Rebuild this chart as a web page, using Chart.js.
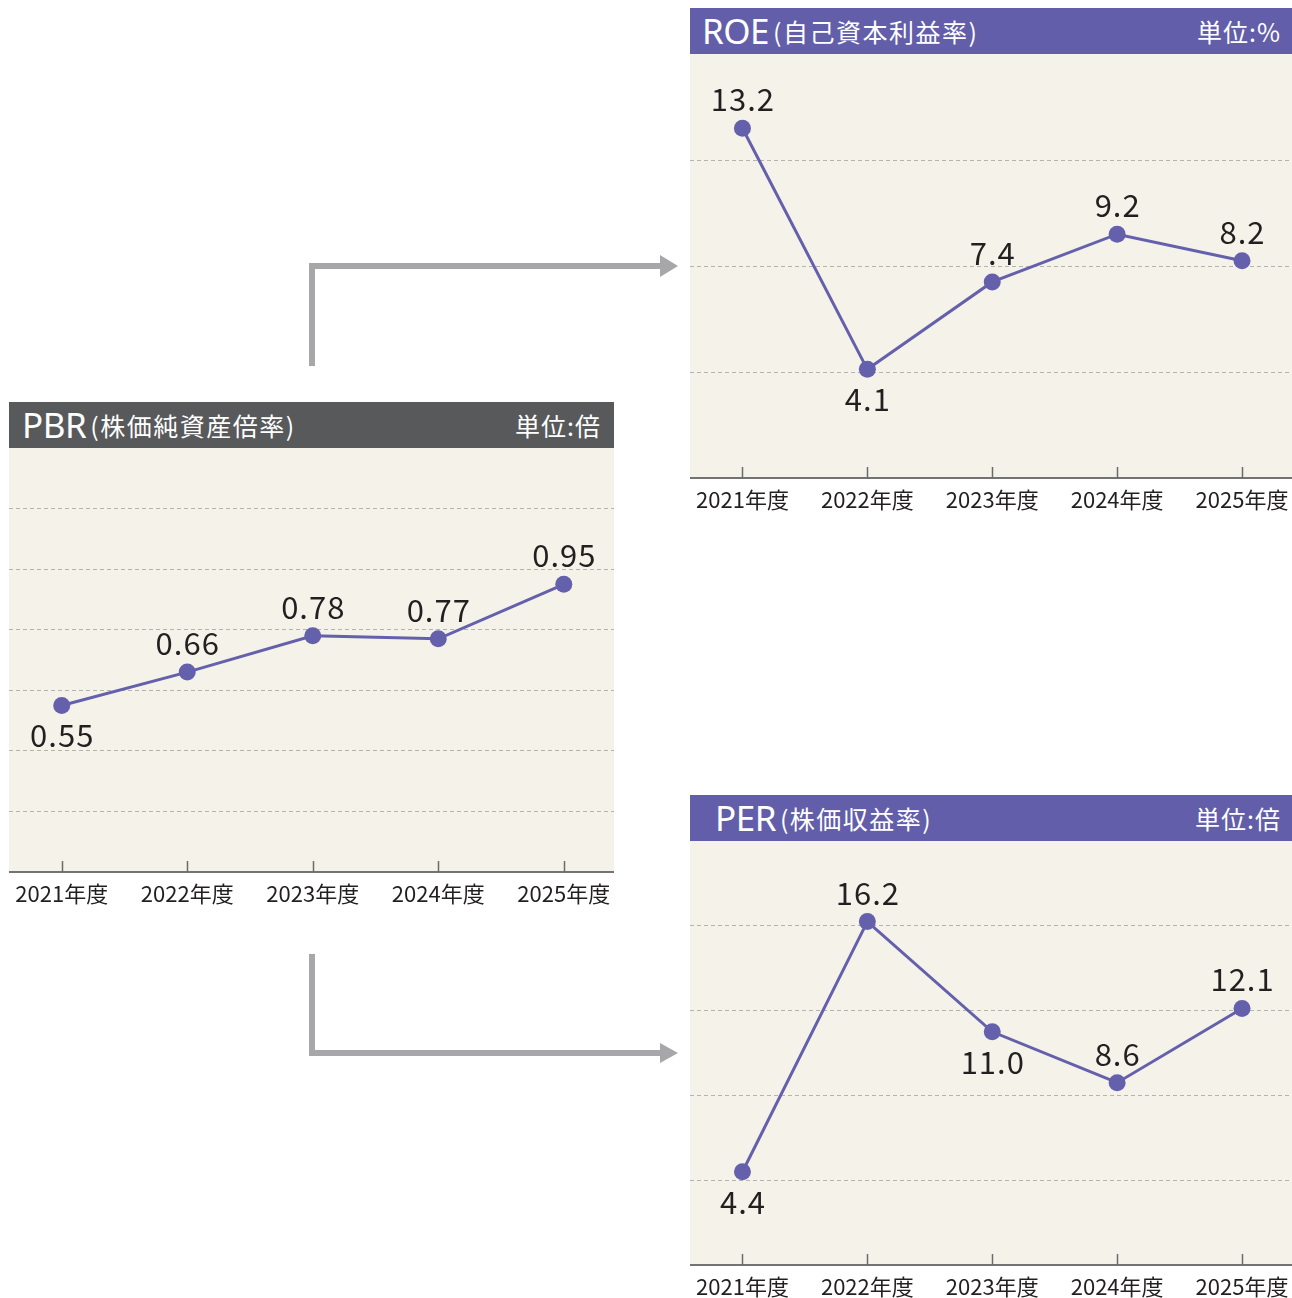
<!DOCTYPE html>
<html>
<head>
<meta charset="utf-8">
<script src="https://cdn.jsdelivr.net/npm/chart.js@4.4.0/dist/chart.umd.min.js"></script>
<style>
  html, body { margin: 0; padding: 0; background: #fff; }
  body { position: relative; width: 1292px; height: 1298px; overflow: hidden;
         font-family: "Noto Sans CJK JP", "Noto Sans", sans-serif; }
  .head { position: absolute; height: 46px; color: #fff; display: flex; align-items: center;
          box-sizing: border-box; }
  .head .big { font-family: "Noto Sans", sans-serif; font-size: 35px; letter-spacing: -0.5px; line-height: 46px; }
  .head .sub { font-size: 25px; margin-left: 4px; line-height: 46px; letter-spacing: 1.5px; }
  .head .unit { font-size: 25px; margin-left: auto; line-height: 46px; letter-spacing: 1px; }
  canvas { position: absolute; }
  svg { position: absolute; left: 0; top: 0; }
</style>
</head>
<body>

<svg width="1292" height="1298">
  <polyline points="312,366 312,266 662,266" fill="none" stroke="#a7a7aa" stroke-width="6"/>
  <polygon points="660,255 678,266 660,277" fill="#a7a7aa"/>
  <polyline points="312,954 312,1053 662,1053" fill="none" stroke="#a7a7aa" stroke-width="6"/>
  <polygon points="660,1043 678,1053 660,1063" fill="#a7a7aa"/>
</svg>

<div class="head" style="left:690px; top:8px; width:602px; background:#625ea9; padding:0 11px 0 12px;">
  <span class="big">ROE</span><span class="sub">(自己資本利益率)</span><span class="unit">単位:%</span>
</div>
<canvas id="roe" width="602" height="466" style="left:690px; top:54px;"></canvas>

<div class="head" style="left:9px; top:402px; width:605px; background:#58595b; padding:0 13px 0 13px;">
  <span class="big">PBR</span><span class="sub">(株価純資産倍率)</span><span class="unit">単位:倍</span>
</div>
<canvas id="pbr" width="605" height="466" style="left:9px; top:448px;"></canvas>

<div class="head" style="left:690px; top:795px; width:602px; background:#625ea9; padding:0 11px 0 25px;">
  <span class="big">PER</span><span class="sub">(株価収益率)</span><span class="unit">単位:倍</span>
</div>
<canvas id="per" width="602" height="466" style="left:690px; top:841px;"></canvas>

<script>
const years = ["2021年度", "2022年度", "2023年度", "2024年度", "2025年度"];

const roeValues = [13.2, 4.1, 7.4, 9.2, 8.2];
const pbrValues = [0.55, 0.66, 0.78, 0.77, 0.95];
const perValues = [4.4, 16.2, 11.0, 8.6, 12.1];

const roeLabels = ["13.2", "4.1", "7.4", "9.2", "8.2"];
const pbrLabels = ["0.55", "0.66", "0.78", "0.77", "0.95"];
const perLabels = ["4.4", "16.2", "11.0", "8.6", "12.1"];

// which value labels sit under their point
const roeBelow = [false, true, false, false, false];
const pbrBelow = [true, false, false, false, false];
const perBelow = [true, false, true, false, false];

const lineColor = "#6460ac";
const plotBg = "#f5f2ea";

const plotBackground = {
    id: "plotBackground",
    beforeDraw: (chart) => {
        const { ctx, chartArea } = chart;
        ctx.save();
        ctx.fillStyle = plotBg;
        ctx.fillRect(chartArea.left, chartArea.top, chartArea.right - chartArea.left, chartArea.bottom - chartArea.top);
        ctx.restore();
    }
};

// tick marks point up into the plot
const innerTicks = {
    id: "innerTicks",
    afterDraw: (chart) => {
        const { ctx, chartArea, scales } = chart;
        ctx.save();
        ctx.strokeStyle = "#6b6b6b";
        ctx.lineWidth = 1.5;
        years.forEach((y, i) => {
            const x = Math.round(scales.x.getPixelForValue(i)) + 0.5;
            ctx.beginPath();
            ctx.moveTo(x, chartArea.bottom);
            ctx.lineTo(x, chartArea.bottom - 11);
            ctx.stroke();
        });
        ctx.restore();
    }
};

const valueLabels = {
    id: "valueLabels",
    afterDatasetsDraw: (chart) => {
        const { ctx } = chart;
        const meta = chart.getDatasetMeta(0);
        const texts = chart.options.plugins.valueLabels.texts;
        const below = chart.options.plugins.valueLabels.below;
        ctx.save();
        ctx.font = "31px 'Noto Sans CJK JP', 'Noto Sans', sans-serif";
        ctx.letterSpacing = "1px";
        ctx.fillStyle = "#231f20";
        ctx.textAlign = "center";
        ctx.textBaseline = "alphabetic";
        meta.data.forEach((pt, i) => {
            const y = below[i] ? pt.y + 42 : pt.y - 17;
            ctx.fillText(texts[i], pt.x + 0.5, y);
        });
        ctx.restore();
    }
};

function makeChart(id, values, texts, below, yMax, yStep) {
    const ctx = document.getElementById(id).getContext("2d");
    return new Chart(ctx, {
        type: "line",
        data: {
            datasets: [{
                data: values.map((v, i) => ({ x: i, y: v })),
                borderColor: lineColor,
                borderWidth: 3,
                backgroundColor: lineColor,
                pointBackgroundColor: lineColor,
                pointBorderColor: lineColor,
                pointRadius: 8.5,
                pointBorderWidth: 0,
                tension: 0,
                clip: false,
            }]
        },
        options: {
            responsive: false,
            animation: false,
            events: [],
            layout: { padding: 0, autoPadding: false },
            plugins: {
                legend: { display: false },
                tooltip: { enabled: false },
                valueLabels: { texts: texts, below: below },
            },
            scales: {
                x: {
                    type: "linear",
                    min: -0.42,
                    max: 4.4,
                    afterBuildTicks: (scale) => {
                        scale.ticks = years.map((y, i) => ({ value: i }));
                    },
                    afterFit: (scale) => {
                        scale.height = 42;
                        scale.paddingLeft = 0;
                        scale.paddingRight = 0;
                    },
                    grid: { display: false, drawTicks: false },
                    border: { display: true, color: "#737373", width: 2 },
                    ticks: {
                        autoSkip: false,
                        maxRotation: 0,
                        padding: 8,
                        color: "#231f20",
                        font: { family: "'Noto Sans CJK JP', 'Noto Sans', sans-serif", size: 22 },
                        callback: (v) => years[v],
                    }
                },
                y: {
                    min: 0,
                    max: yMax,
                    afterFit: (scale) => { scale.width = 0; },
                    ticks: { display: false, stepSize: yStep },
                    border: { display: false, dash: [4, 3] },
                    grid: {
                        drawTicks: false,
                        lineWidth: 1,
                        color: (c) => (c.tick && (c.tick.value === 0 || c.tick.value >= yMax - 1e-9)) ? "rgba(0,0,0,0)" : "#b5b3b0",
                    }
                }
            }
        },
        plugins: [plotBackground, innerTicks, valueLabels]
    });
}

makeChart("roe", roeValues, roeLabels, roeBelow, 16, 4);
makeChart("pbr", pbrValues, pbrLabels, pbrBelow, 1.4, 0.2);
makeChart("per", perValues, perLabels, perBelow, 20, 4);
</script>
</body>
</html>
